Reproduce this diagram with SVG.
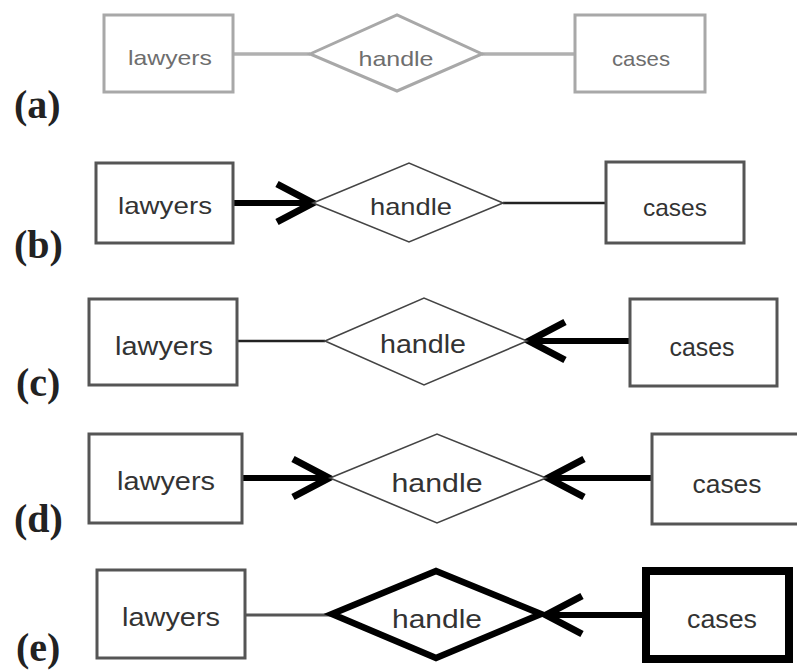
<svg xmlns="http://www.w3.org/2000/svg" width="797" height="670" viewBox="0 0 797 670">
<style>
  .lbl{font-family:"Liberation Serif","Times New Roman",serif;font-size:40px;font-weight:bold;fill:#222}
  .t{font-family:"Liberation Sans",Arial,sans-serif;fill:#333;text-anchor:middle}
  .ta{fill:#6e6e6e;font-size:21px}
  .ent{fill:#fff;stroke:#555;stroke-width:3}
  .enta{fill:#fff;stroke:#a8a8a8;stroke-width:3}
  .rel{fill:#fff;stroke:#444;stroke-width:1.6}
  .rela{fill:#fff;stroke:#a8a8a8;stroke-width:3}
  .thin{stroke:#222;stroke-width:2.5;fill:none}
  .thina{stroke:#b0b0b0;stroke-width:3.5;fill:none}
  .thick{stroke:#000;stroke-width:6;fill:none}
</style>
<defs>
  <marker id="chev" markerUnits="userSpaceOnUse" markerWidth="60" markerHeight="60" viewBox="-45 -30 60 60" refX="0" refY="0" orient="auto" overflow="visible">
    <path d="M-36,-19 L0,0 L-36,19" fill="none" stroke="#000" stroke-width="7" stroke-linejoin="miter"/>
  </marker>
</defs>
<rect width="797" height="670" fill="#fff"/>

<g id="labels">
  <text class="lbl" x="14" y="118">(a)</text>
  <text class="lbl" x="14" y="258">(b)</text>
  <text class="lbl" x="16" y="396">(c)</text>
  <text class="lbl" x="14" y="532">(d)</text>
  <text class="lbl" x="16" y="661">(e)</text>
</g>

<g id="connectors">
  <!-- (a) -->
  <line class="thina" x1="233" y1="54" x2="310" y2="54"/>
  <line class="thina" x1="482" y1="54" x2="575" y2="54"/>
  <!-- (b) -->
  <line class="thick" x1="233" y1="203" x2="313" y2="203" marker-end="url(#chev)"/>
  <line class="thin" x1="503" y1="203" x2="605" y2="203"/>
  <!-- (c) -->
  <line class="thin" x1="237" y1="341" x2="325" y2="341" stroke="#333"/>
  <line class="thick" x1="629" y1="341" x2="529" y2="341" marker-end="url(#chev)"/>
  <!-- (d) -->
  <line class="thick" x1="242" y1="478" x2="329" y2="478" marker-end="url(#chev)"/>
  <line class="thick" x1="652" y1="478" x2="548" y2="478" marker-end="url(#chev)"/>
  <!-- (e) -->
  <line x1="245" y1="615" x2="332" y2="615" stroke="#555" stroke-width="3"/>
  <line class="thick" x1="643" y1="615" x2="546" y2="615" marker-end="url(#chev)"/>
</g>

<g id="a-lawyers"><rect class="enta" x="104" y="15" width="129" height="77"/><text class="t ta" x="170" y="65" textLength="84" lengthAdjust="spacingAndGlyphs">lawyers</text></g>
<g id="a-handle"><polygon class="rela" points="310,54 397,15 482,54 397,91"/><text class="t ta" x="396" y="66" textLength="75" lengthAdjust="spacingAndGlyphs">handle</text></g>
<g id="a-cases"><rect class="enta" x="575" y="15" width="130" height="77"/><text class="t ta" x="641" y="66" textLength="58" lengthAdjust="spacingAndGlyphs">cases</text></g>

<g id="b-lawyers"><rect class="ent" x="96" y="163" width="137" height="80"/><text class="t" font-size="24" x="165" y="214" textLength="94" lengthAdjust="spacingAndGlyphs">lawyers</text></g>
<g id="b-handle"><polygon class="rel" points="313,203 409,163 503,203 409,242"/><text class="t" font-size="24" x="411" y="215" textLength="82" lengthAdjust="spacingAndGlyphs">handle</text></g>
<g id="b-cases"><rect class="ent" x="606" y="162" width="138" height="81" stroke="#222"/><text class="t" font-size="24" x="675" y="216" textLength="64" lengthAdjust="spacingAndGlyphs">cases</text></g>

<g id="c-lawyers"><rect class="ent" x="89" y="299" width="148" height="86"/><text class="t" font-size="25" x="164" y="355" textLength="98" lengthAdjust="spacingAndGlyphs">lawyers</text></g>
<g id="c-handle"><polygon class="rel" points="325,341 424,298 527,341 424,385"/><text class="t" font-size="25" x="423" y="353" textLength="86" lengthAdjust="spacingAndGlyphs">handle</text></g>
<g id="c-cases"><rect class="ent" x="630" y="299" width="147" height="87"/><text class="t" font-size="25" x="702" y="356" textLength="65" lengthAdjust="spacingAndGlyphs">cases</text></g>

<g id="d-lawyers"><rect class="ent" x="89" y="434" width="153" height="89"/><text class="t" font-size="26" x="166" y="490" textLength="98" lengthAdjust="spacingAndGlyphs">lawyers</text></g>
<g id="d-handle"><polygon class="rel" points="330,478 437,434 546,478 437,523"/><text class="t" font-size="26" x="437" y="492" textLength="91" lengthAdjust="spacingAndGlyphs">handle</text></g>
<g id="d-cases"><rect class="ent" x="652" y="434" width="150" height="90"/><text class="t" font-size="26" x="727" y="493" textLength="69" lengthAdjust="spacingAndGlyphs">cases</text></g>

<g id="e-lawyers"><rect class="ent" x="97" y="570" width="148" height="88" stroke="#666"/><text class="t" font-size="26" x="171" y="626" textLength="98" lengthAdjust="spacingAndGlyphs">lawyers</text></g>
<g id="e-handle"><polygon points="332,614 436,571 541,614 436,658" fill="#fff" stroke="#000" stroke-width="6.5" stroke-linejoin="miter"/><text class="t" font-size="26" x="437" y="628" textLength="90" lengthAdjust="spacingAndGlyphs">handle</text></g>
<g id="e-cases"><rect x="646" y="571" width="143" height="88" fill="#fff" stroke="#000" stroke-width="8"/><text class="t" font-size="26" x="722" y="628" textLength="70" lengthAdjust="spacingAndGlyphs">cases</text></g>
</svg>
